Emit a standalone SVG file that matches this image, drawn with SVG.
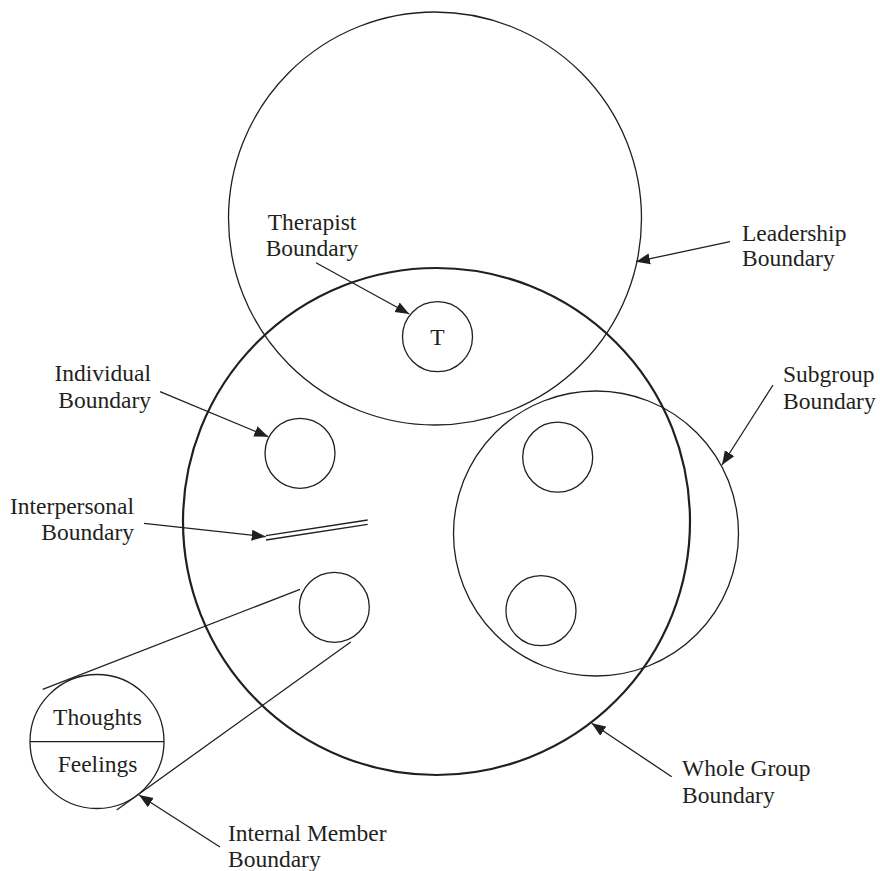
<svg xmlns="http://www.w3.org/2000/svg" width="880" height="871" viewBox="0 0 880 871">
  <style>
    .ring { fill: none; stroke: #231f20; stroke-width: 1.3; }
    .whole { fill: none; stroke: #231f20; stroke-width: 2.2; }
    .lead { fill: none; stroke: #231f20; stroke-width: 1.3; }
    .label { font-family: "Liberation Serif", "Times New Roman", serif; font-size: 23.5px; fill: #231f20; }
    .mid { text-anchor: middle; }
    .end { text-anchor: end; }
    .arrow { fill: none; stroke: #231f20; stroke-width: 1.3; marker-end: url(#head); }
    .plain { fill: none; stroke: #231f20; stroke-width: 1.3; }
  </style>
  <defs>
    <marker id="head" markerUnits="userSpaceOnUse" markerWidth="15" markerHeight="12" refX="14" refY="6" orient="auto">
      <path d="M0,0.5 L14,6 L0,11.5 z" fill="#231f20"/>
    </marker>
  </defs>
  <rect width="880" height="871" fill="#ffffff"/>

  <!-- large boundaries -->
  <g id="leadership">
    <circle class="lead" cx="435" cy="218.5" r="206.5"/>
    <text class="label" x="742" y="241">Leadership</text>
    <text class="label" x="742" y="266">Boundary</text>
  </g>
  <g id="whole-group">
    <circle class="whole" cx="436.5" cy="521.5" r="253.5"/>
    <text class="label" x="682" y="776">Whole Group</text>
    <text class="label" x="682" y="803">Boundary</text>
  </g>
  <g id="subgroup">
    <circle class="ring" cx="596" cy="533.5" r="142.5"/>
    <text class="label" x="783" y="382">Subgroup</text>
    <text class="label" x="783" y="409">Boundary</text>
  </g>

  <!-- members -->
  <g id="therapist">
    <circle class="ring" cx="437.5" cy="336.7" r="35"/>
    <text class="label mid" x="437.5" y="344.5">T</text>
    <text class="label mid" x="312" y="230">Therapist</text>
    <text class="label mid" x="312" y="256">Boundary</text>
  </g>
  <g id="individual">
    <circle class="ring" cx="300" cy="453.3" r="35"/>
    <text class="label end" x="151" y="381">Individual</text>
    <text class="label end" x="151" y="408">Boundary</text>
  </g>
  <g id="member-lower">
    <circle class="ring" cx="334.3" cy="607.3" r="35"/>
  </g>
  <g id="sub-member-upper">
    <circle class="ring" cx="557.7" cy="457.2" r="35"/>
  </g>
  <g id="sub-member-lower">
    <circle class="ring" cx="541" cy="610.7" r="35"/>
  </g>
  <g id="interpersonal">
    <line class="plain" x1="266" y1="535.7" x2="367.7" y2="520"/>
    <line class="plain" x1="266" y1="540" x2="367.7" y2="524.3"/>
    <text class="label end" x="134" y="514">Interpersonal</text>
    <text class="label end" x="134" y="540">Boundary</text>
  </g>
  <g id="internal-member">
    <circle class="ring" cx="97" cy="741.5" r="67"/>
    <line class="plain" x1="30" y1="741.7" x2="164" y2="741.7"/>
    <text class="label mid" x="97.5" y="725">Thoughts</text>
    <text class="label mid" x="97.5" y="771.5">Feelings</text>
    <text class="label" x="228" y="841">Internal Member</text>
    <text class="label" x="228" y="867">Boundary</text>
  </g>

  <!-- connectors -->
  <g id="connectors">
    <line class="arrow" x1="730" y1="241.7" x2="636" y2="261.7"/>
    <line class="arrow" x1="316" y1="262.7" x2="409.3" y2="314"/>
    <line class="arrow" x1="160" y1="391.7" x2="268.3" y2="436.7"/>
    <line class="arrow" x1="144" y1="523.3" x2="265.7" y2="536.7"/>
    <line class="arrow" x1="773" y1="385" x2="722" y2="465"/>
    <line class="arrow" x1="671.7" y1="776.7" x2="591.7" y2="723.3"/>
    <line class="arrow" x1="220" y1="847" x2="139" y2="795"/>
    <!-- projection lines from member to enlarged view -->
    <line class="plain" x1="42.7" y1="689.3" x2="300" y2="589.3"/>
    <line class="plain" x1="116.7" y1="810" x2="350.7" y2="642"/>
  </g>
</svg>
